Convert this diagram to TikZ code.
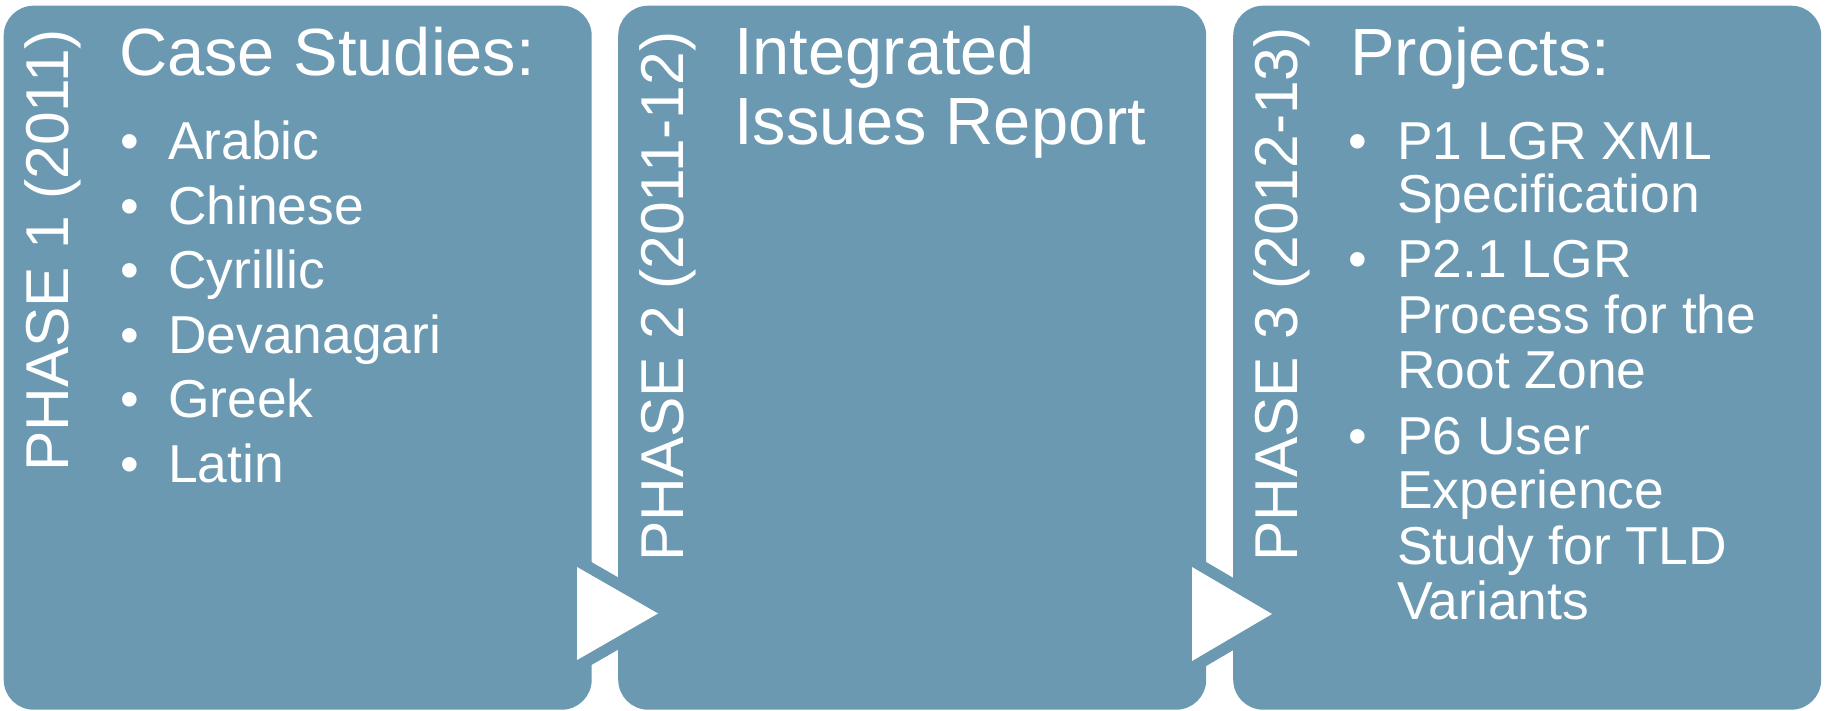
\documentclass[tikz,border=0pt]{standalone}
\usepackage{fontspec}
\setmainfont{Liberation Sans}
\definecolor{boxblue}{RGB}{107,153,178}
\begin{document}
\begin{tikzpicture}[x=1pt,y=-1pt,
  phasebox/.style={fill=boxblue, draw=none, rounded corners=30pt, minimum width=588pt, minimum height=704pt, anchor=north west, inner sep=0pt},
  head/.style={text=white, font=\fontsize{66.8}{70}\selectfont, anchor=base west, inner sep=0pt},
  itemtext/.style={text=white, font=\fontsize{53.4}{56}\selectfont, anchor=base west, inner sep=0pt},
  bul/.style={text=white, font=\fontsize{53.4}{56}\selectfont, anchor=base, inner sep=0pt},
  vert/.style={text=white, font=\fontsize{60.5}{64}\selectfont, rotate=90, anchor=base west, inner sep=0pt},
  triedge/.style={draw=boxblue, line width=23pt, line join=round},
  trifill/.style={fill=white}]
\fill[white] (0,0) rectangle (1825,711);
\useasboundingbox (0,0) rectangle (1825,711);

% boxes
\node[phasebox] (b1) at (3.5,5.5) {};
\node[phasebox] (b2) at (618,5.5) {};
\node[phasebox] (b3) at (1233,5.5) {};

% arrow triangles
\draw[triedge] (577,567) -- (658,613.5) -- (577,660) -- cycle;
\fill[trifill] (577,567) -- (658,613.5) -- (577,660) -- cycle;
\draw[triedge] (1192,567) -- (1272,614) -- (1192,661) -- cycle;
\fill[trifill] (1192,567) -- (1272,614) -- (1192,661) -- cycle;

% box 1
\node[vert] (v1) at (68,472) {PHASE 1 (2011)};
\node[head] (h1) at (119,76) {Case Studies:};
\foreach \t/\yy/\n in {Arabic/160/a,Chinese/224.5/b,Cyrillic/289/c,Devanagari/353/d,Greek/417.5/e,Latin/482/f}{
  \node[bul] (bu1\n) at (130,\yy) {•};
  \node[itemtext] (it1\n) at (168,\yy) {\t};
}

% box 2
\node[vert] (v2) at (683,562) {PHASE 2 (2011-12)};
\node[head] (h2a) at (734,75) {Integrated};
\node[head] (h2b) at (734,145) {Issues Report};

% box 3
\node[vert] (v3) at (1297,562) {PHASE 3 (2012-13)};
\node[head] (h3) at (1350,76) {Projects:};
\node[bul] (bu3a) at (1358,160) {•};
\node[bul] (bu3b) at (1358,278) {•};
\node[bul] (bu3c) at (1358,454) {•};
\node[itemtext] (it3a) at (1397,160) {P1 LGR XML};
\node[itemtext] (it3b) at (1397,213) {Specification};
\node[itemtext] (it3c) at (1397,278) {P2.1 LGR};
\node[itemtext] (it3d) at (1397,333) {Process for the};
\node[itemtext] (it3e) at (1397,388) {Root Zone};
\node[itemtext] (it3f) at (1397,454) {P6 User};
\node[itemtext] (it3g) at (1397,508) {Experience};
\node[itemtext] (it3h) at (1397,564) {Study for TLD};
\node[itemtext] (it3i) at (1397,619) {Variants};
\end{tikzpicture}
\end{document}
